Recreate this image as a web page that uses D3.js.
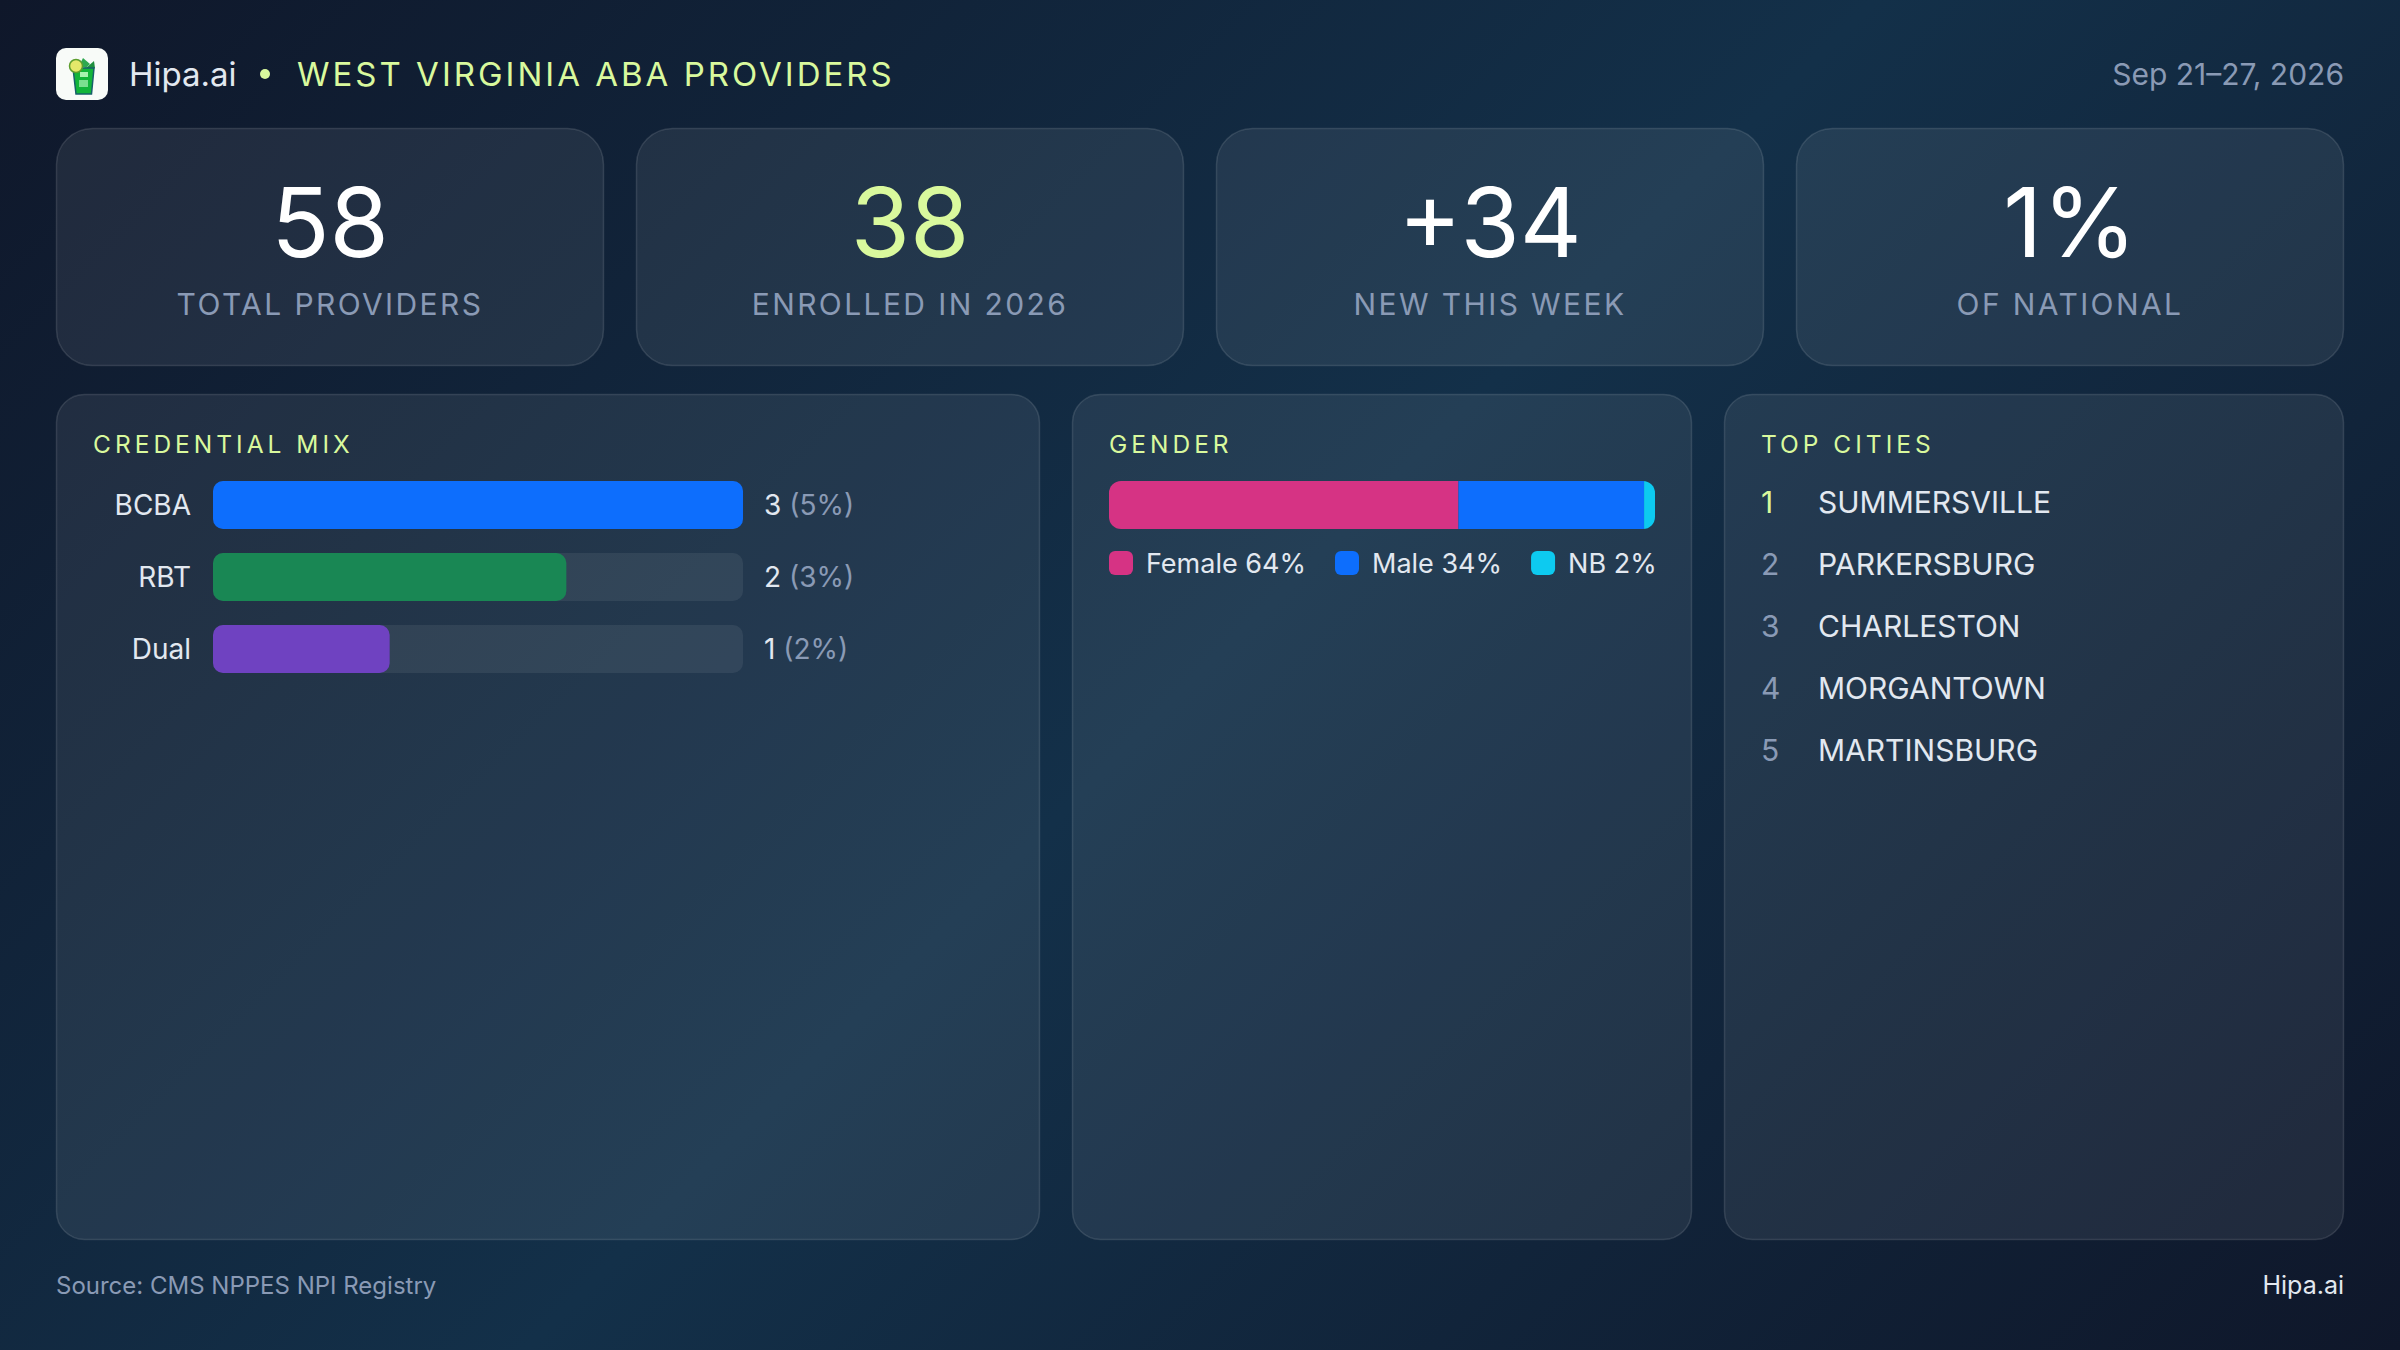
<!DOCTYPE html>
<html><head><meta charset="utf-8">
<script src="https://cdn.jsdelivr.net/npm/d3@7"></script>
<style>html,body{margin:0;padding:0;background:#0f172a}svg{display:block}text{font-family:"Inter",sans-serif;font-kerning:normal}</style>
</head><body><svg id="c" width="2400" height="1350"></svg>
<script>
const kpiValues=["58","38","+34","1%"];
const kpiLabels=["TOTAL PROVIDERS","ENROLLED IN 2026","NEW THIS WEEK","OF NATIONAL"];
const credLabels=["BCBA","RBT","Dual"];
const credValues=[3,2,1];
const credPct=["(5%)","(3%)","(2%)"];
const credColors=["#0d6efd","#198754","#6f42c1"];
const genderLabels=["Female","Male","NB"];
const genderPct=[64,34,2];
const genderColors=["#d63384","#0d6efd","#0dcaf0"];
const cities=["SUMMERSVILLE","PARKERSBURG","CHARLESTON","MORGANTOWN","MARTINSBURG"];

const LIME="#d9f99d",SOFT="#e2e8f0",MUTE="#8a9ab5";
const svg=d3.select("#c");
const defs=svg.append("defs");
const bg=defs.append("linearGradient").attr("id","bg").attr("gradientUnits","userSpaceOnUse")
 .attr("x1",262.5).attr("y1",-262.5).attr("x2",2137.5).attr("y2",1612.5);
[[0,"#0f172a"],[.5,"#133049"],[1,"#0f172a"]].forEach(s=>bg.append("stop").attr("offset",s[0]).attr("stop-color",s[1]));
svg.append("rect").attr("width",2400).attr("height",1350).attr("fill","url(#bg)");

function card(x,y,w,h,r){svg.append("rect").attr("x",x+.5).attr("y",y+.5).attr("width",w-1).attr("height",h-1).attr("rx",r)
 .attr("fill","rgba(255,255,255,0.075)").attr("stroke","rgba(255,255,255,0.12)").attr("stroke-width",1.5);}
function txt(x,y,s,size,fill,o={}){return svg.append("text").attr("x",x).attr("y",y).text(s).attr("font-size",size).attr("fill",fill)
 .attr("text-anchor",o.anchor||"start").attr("font-weight",o.weight||400).style("letter-spacing",(o.ls||0)+"px").style("word-spacing",(o.ws||0)+"px");}

// logo
const lg=svg.append("g").attr("transform","translate(56,48)");
lg.append("rect").attr("width",52).attr("height",52).attr("rx",10).attr("fill","#f8fbf8");
lg.append("path").attr("d","M27 10 L23 18 L30 20 L34 16 Z").attr("fill","#2fa84f");
lg.append("path").attr("d","M30 20 L38 13 L39 20 L34 24 Z").attr("fill","#1f8f3f");
lg.append("path").attr("d","M17 20 L38 20 L35.5 46 L20 46 Z").attr("fill","#12b53a").attr("stroke","#17606a").attr("stroke-width",1.5);
lg.append("rect").attr("x",24).attr("y",24).attr("width",8).attr("height",5).attr("fill","#a7f3b0");
lg.append("rect").attr("x",23).attr("y",32).attr("width",9).attr("height",7).attr("fill","#7be08f");
lg.append("circle").attr("cx",20).attr("cy",18).attr("r",6.5).attr("fill","#e4e86a").attr("stroke","#5d9e2e").attr("stroke-width",1.5);

// header
txt(129,86,"Hipa.ai",33,SOFT);
svg.append("circle").attr("cx",265).attr("cy",74).attr("r",5).attr("fill",LIME);
txt(297,86,"WEST VIRGINIA ABA PROVIDERS",33,LIME,{ls:3});
txt(2344,85,"Sep 21–27, 2026",30,MUTE,{anchor:"end"});

// KPI cards
const xKpi=d3.scaleBand().domain(d3.range(kpiValues.length)).range([56,2344]).paddingInner(32/548/1.0584).paddingOuter(0);
kpiValues.forEach((v,i)=>{
 const x=56+i*580,w=548;
 card(x,128,w,238,36);
 txt(x+w/2,257,v,96,i===1?LIME:"#ffffff",{anchor:"middle"});
 txt(x+w/2,315,kpiLabels[i],30,MUTE,{anchor:"middle",ls:2.4});
});

// panels
const panels=[[56,984,"CREDENTIAL MIX"],[1072,620,"GENDER"],[1724,620,"TOP CITIES"]];
panels.forEach(p=>{card(p[0],394,p[1],846,28);txt(p[0]+37,453,p[2],24.5,LIME,{ls:4});});

// credential bars
const xCred=d3.scaleLinear().domain([0,d3.max(credValues)]).range([0,530]);
const yCred=d3.scaleBand().domain(credLabels).range([481,673]).paddingInner(.5).paddingOuter(0);
const yC=l=>481+72*credLabels.indexOf(l);
credLabels.forEach((l,i)=>{
 const y=yC(l);
 svg.append("rect").attr("x",213).attr("y",y).attr("width",xCred.range()[1]).attr("height",48).attr("rx",10).attr("fill","rgba(255,255,255,0.07)");
 svg.append("rect").attr("x",213).attr("y",y).attr("width",xCred(credValues[i])).attr("height",48).attr("rx",10).attr("fill",credColors[i]);
 txt(191,y+34,l,28,SOFT,{anchor:"end"});
 const t=txt(764,y+34,credValues[i]+" ",28,SOFT);
 t.append("tspan").attr("fill",MUTE).text(credPct[i]);
});

// gender stacked bar
const xG=d3.scaleLinear().domain([0,d3.sum(genderPct)]).range([1109,1655]);
defs.append("clipPath").attr("id","gclip").append("rect").attr("x",1109).attr("y",481).attr("width",546).attr("height",48).attr("rx",12);
const cum=[0,...d3.cumsum(genderPct)];
svg.append("g").attr("clip-path","url(#gclip)").selectAll("rect").data(genderPct).join("rect")
 .attr("x",(d,i)=>xG(cum[i])).attr("y",481).attr("height",48).attr("width",d=>xG(d)-xG(0)).attr("fill",(d,i)=>genderColors[i]);
let lx=1109;
genderLabels.forEach((l,i)=>{
 svg.append("rect").attr("x",lx).attr("y",551).attr("width",24).attr("height",24).attr("rx",6).attr("fill",genderColors[i]);
 const t=txt(lx+37,573,l+" "+genderPct[i]+"%",27,SOFT);
 lx+=37+t.node().getComputedTextLength()+29;
});

// cities
cities.forEach((c,i)=>{
 const y=513+62*i;
 txt(1761,y,i+1,30,i===0?LIME:MUTE);
 txt(1818,y,c,30,SOFT);
});

// footer
txt(56,1294,"Source: CMS NPPES NPI Registry",24,MUTE);
txt(2344,1294,"Hipa.ai",25,SOFT,{anchor:"end"});
</script></body></html>
